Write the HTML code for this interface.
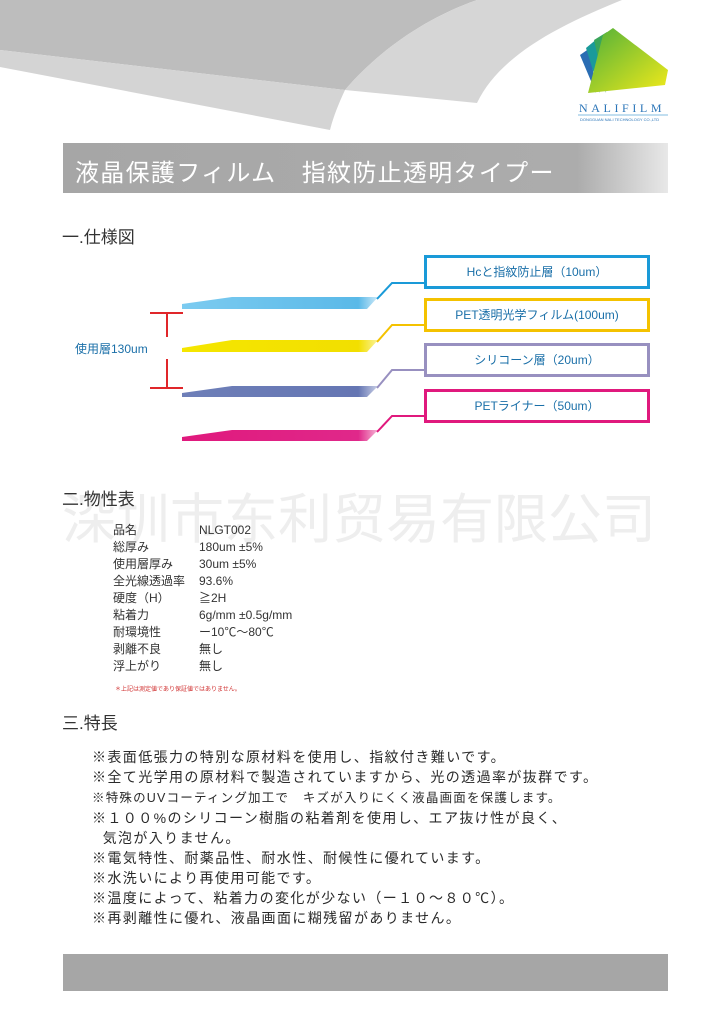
<!DOCTYPE html>
<html><head><meta charset="utf-8">
<style>
body{margin:0;width:723px;height:1024px;background:#fff;position:relative;overflow:hidden;font-family:"Liberation Sans","Noto Sans CJK JP",sans-serif;color:#333}
.a{position:absolute;white-space:nowrap}
.h{font-size:17px;color:#333}
.t{font-size:12px;color:#333;line-height:17px}
.f{font-size:14px;letter-spacing:1.4px;color:#2a2a2a;line-height:20px}
.box{position:absolute;left:424px;width:220px;height:28px;border:3px solid;background:#fff;font-size:12px;text-align:center;line-height:28px;color:#1a6fa8}
</style></head><body>
<svg class="a" style="left:0;top:0" width="723" height="500">
<defs>
<linearGradient id="tb" x1="0" x2="1"><stop offset="0" stop-color="#a6a6a6"/><stop offset="0.85" stop-color="#acacac"/><stop offset="1" stop-color="#e8e8e8"/></linearGradient>
<linearGradient id="lg" x1="0" y1="0" x2="1" y2="1"><stop offset="0" stop-color="#4fb03a"/><stop offset="1" stop-color="#f2ea1a"/></linearGradient>
<linearGradient id="cb" x1="0" x2="1"><stop offset="0" stop-color="#7ccbf0"/><stop offset="0.9" stop-color="#5ab9e8"/><stop offset="1" stop-color="#cde9f8"/></linearGradient>
<linearGradient id="cy" x1="0" x2="1"><stop offset="0" stop-color="#f5e600"/><stop offset="0.9" stop-color="#f2df00"/><stop offset="1" stop-color="#fbf39a"/></linearGradient>
<linearGradient id="cp" x1="0" x2="1"><stop offset="0" stop-color="#6e7fb8"/><stop offset="0.9" stop-color="#6576b3"/><stop offset="1" stop-color="#c9cfe6"/></linearGradient>
<linearGradient id="cm" x1="0" x2="1"><stop offset="0" stop-color="#e0197d"/><stop offset="0.9" stop-color="#e0288a"/><stop offset="1" stop-color="#f5b5d5"/></linearGradient>
</defs>
<path d="M0,0 L477,0 C420,20 375,55 345,90 L0,50 Z" fill="#bdbdbd"/>
<path d="M0,50 L345,90 C338,105 333,118 330,130 L0,67 Z" fill="#d4d4d4"/>
<path d="M477,0 L622,0 C560,25 500,55 477,103 L345,90 C375,55 420,20 477,0Z" fill="#d6d6d6"/>
<rect x="63" y="143" width="605" height="50" fill="url(#tb)"/>
<path d="M580,55 L590,48 L596,93 Z" fill="#2a6db3"/>
<path d="M586,48 L598,38 L600,93 Z" fill="#1a9a9a"/>
<path d="M594,40 L607,32 L606,93 Z" fill="#3aa55a"/>
<path d="M603,35 L613,28 L668,70 L665,85 L588,93 Z" fill="url(#lg)"/>
<line x1="578" y1="115" x2="668" y2="115" stroke="#5aa7d8" stroke-width="0.8"/>
<polygon points="182,304 232,297 378,297 367,309 182,309" fill="url(#cb)"/>
<polygon points="182,348 232,340 378,340 367,352 182,352" fill="url(#cy)"/>
<polygon points="182,393 232,386 378,386 367,397 182,397" fill="url(#cp)"/>
<polygon points="182,437 232,430 378,430 367,441 182,441" fill="url(#cm)"/>
<polyline points="377,299 392,283 424,283" fill="none" stroke="#1a9ad8" stroke-width="2"/>
<polyline points="377,342 392,325 424,325" fill="none" stroke="#f4c200" stroke-width="2"/>
<polyline points="377,388 392,370 424,370" fill="none" stroke="#9890c0" stroke-width="2"/>
<polyline points="377,432 392,416 424,416" fill="none" stroke="#e0197d" stroke-width="2"/>
<g stroke="#e0262a" stroke-width="2">
<line x1="150" y1="313" x2="183" y2="313"/><line x1="150" y1="388" x2="183" y2="388"/>
<line x1="167" y1="313" x2="167" y2="337"/><line x1="167" y1="359" x2="167" y2="388"/>
</g>
</svg>
<div class="a" style="left:579px;top:101px;font-family:'Liberation Serif',serif;font-size:12px;letter-spacing:3.6px;color:#2b75b8">NALIFILM</div>
<div class="a" style="left:580px;top:117px;font-size:4px;color:#2b75b8">DONGGUAN NALI TECHNOLOGY CO.,LTD</div>
<div class="a" style="left:75px;top:153px;font-size:24px;color:#fff;letter-spacing:1.3px">液晶保護フィルム　指紋防止透明タイプー</div>
<div class="a h" style="left:62px;top:223px">一.仕様図</div>
<div class="a" style="left:75px;top:340px;font-size:12px;color:#1a6fa8">使用層130um</div>
<div class="box" style="top:255px;border-color:#1a9ad8">Hcと指紋防止層（10um）</div>
<div class="box" style="top:298px;border-color:#f4c200">PET透明光学フィルム(100um)</div>
<div class="box" style="top:343px;border-color:#9890c0">シリコーン層（20um）</div>
<div class="box" style="top:389px;border-color:#e0197d">PETライナー（50um）</div>
<div class="a" style="left:62px;top:490px;font-size:54px;color:#eeeeee;line-height:60px">深圳市东利贸易有限公司</div>
<div class="a h" style="left:62px;top:485px">二.物性表</div>
<div class="a t" style="left:113px;top:522px">品名<br>総厚み<br>使用層厚み<br>全光線透過率<br>硬度（H）<br>粘着力<br>耐環境性<br>剥離不良<br>浮上がり</div>
<div class="a t" style="left:199px;top:522px">NLGT002<br>180um ±5%<br>30um ±5%<br>93.6%<br>≧2H<br>6g/mm ±0.5g/mm<br>ー10℃～80℃<br>無し<br>無し</div>
<div class="a" style="left:115px;top:684px;font-size:6px;color:#d03030">＊上記は測定値であり保証値ではありません。</div>
<div class="a h" style="left:62px;top:709px">三.特長</div>
<div class="a f" style="left:92px;top:747px">※表面低張力の特別な原材料を使用し、指紋付き難いです。<br>※全て光学用の原材料で製造されていますから、光の透過率が抜群です。<br><span style="font-size:12.5px;letter-spacing:1.2px">※特殊のUVコーティング加工で　キズが入りにくく液晶画面を保護します。</span><br>※１００%のシリコーン樹脂の粘着剤を使用し、エア抜け性が良く、<br>&nbsp;&nbsp;気泡が入りません。<br>※電気特性、耐薬品性、耐水性、耐候性に優れています。<br>※水洗いにより再使用可能です。<br>※温度によって、粘着力の変化が少ない（ー１０～８０℃）。<br>※再剥離性に優れ、液晶画面に糊残留がありません。</div>
<div class="a" style="left:63px;top:954px;width:605px;height:37px;background:#a6a6a6"></div>
</body></html>
